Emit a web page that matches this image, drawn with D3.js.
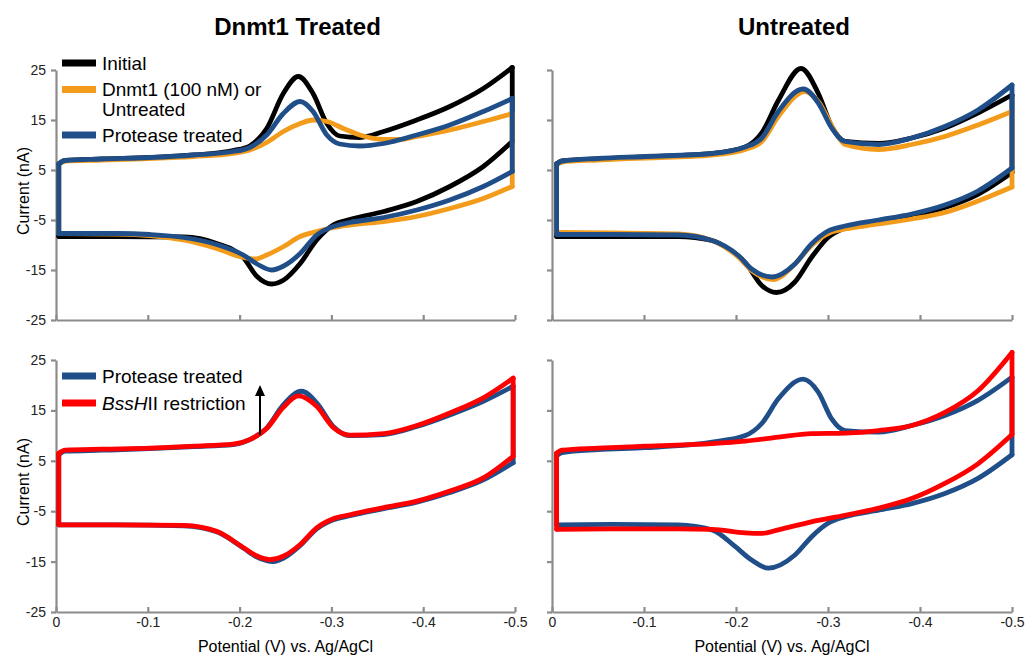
<!DOCTYPE html>
<html>
<head>
<meta charset="utf-8">
<script src="https://cdn.jsdelivr.net/npm/d3@7"></script>
<style>
  body { margin: 0; background: #fff; }
  svg { font-family: Arial, "Liberation Sans", sans-serif; }
</style>
</head>
<body>
<svg id="svg" width="1029" height="658"></svg>
<script>
// axis ticks and labels
const xTicks = [0, -0.1, -0.2, -0.3, -0.4, -0.5];
const xTickLabels = ['0', '-0.1', '-0.2', '-0.3', '-0.4', '-0.5'];
const yTicks = [-25, -15, -5, 5, 15, 25];
const panelTitles = ['Dnmt1 Treated', 'Untreated'];
const xTitle = 'Potential (V) vs. Ag/AgCl';
const yTitle = 'Current (nA)';

// [potential V, current nA], forward (upper) and return (lower) branches

// top left: Dnmt1 treated
const tlInitialUp = [[-0.003,6.2],[-0.01,6.9],[-0.05,7.2],[-0.102,7.5],[-0.15,8.0],[-0.193,8.9],[-0.211,9.8],[-0.2205,11.2],[-0.2295,13.3],[-0.2476,20.3],[-0.264,23.7],[-0.280,20.3],[-0.295,14.3],[-0.309,11.8],[-0.331,11.5],[-0.357,12.7],[-0.393,15.0],[-0.429,17.7],[-0.4655,21.3],[-0.497,25.5]];
const tlInitialLow = [[-0.003,-8.3],[-0.066,-8.3],[-0.139,-8.4],[-0.175,-9.7],[-0.204,-12.5],[-0.219,-16.3],[-0.235,-17.8],[-0.248,-17.0],[-0.266,-13.7],[-0.284,-9.0],[-0.302,-6.0],[-0.32,-4.9],[-0.357,-3.3],[-0.393,-1.3],[-0.429,1.7],[-0.4655,5.7],[-0.497,10.7]];
const tlDnmtUp = [[-0.003,6.2],[-0.01,6.8],[-0.05,7.0],[-0.102,7.3],[-0.15,7.7],[-0.193,8.3],[-0.211,9.0],[-0.2295,10.5],[-0.2476,12.7],[-0.266,14.3],[-0.280,15.0],[-0.295,14.7],[-0.313,13.3],[-0.331,12.0],[-0.357,11.1],[-0.375,11.1],[-0.393,11.7],[-0.429,13.0],[-0.4655,14.7],[-0.497,16.3]];
const tlDnmtLow = [[-0.003,-7.7],[-0.066,-7.8],[-0.102,-8.1],[-0.139,-9.0],[-0.175,-10.7],[-0.204,-12.5],[-0.217,-12.8],[-0.2295,-12.0],[-0.248,-10.3],[-0.266,-8.3],[-0.284,-7.3],[-0.302,-6.5],[-0.32,-6.0],[-0.357,-5.3],[-0.393,-4.3],[-0.429,-2.7],[-0.4655,-0.7],[-0.497,1.7]];
const tlProteaseUp = [[-0.003,6.2],[-0.01,6.9],[-0.05,7.2],[-0.102,7.5],[-0.15,8.0],[-0.193,8.7],[-0.211,9.5],[-0.2295,12.0],[-0.2476,16.3],[-0.266,18.7],[-0.280,16.7],[-0.295,12.0],[-0.309,10.2],[-0.331,9.8],[-0.357,10.3],[-0.393,12.0],[-0.429,14.0],[-0.4655,16.7],[-0.497,19.3]];
const tlProteaseLow = [[-0.003,-7.7],[-0.066,-7.7],[-0.102,-7.9],[-0.139,-8.5],[-0.175,-9.9],[-0.204,-12.0],[-0.219,-13.8],[-0.235,-15.0],[-0.248,-14.2],[-0.266,-11.7],[-0.284,-8.0],[-0.302,-6.3],[-0.32,-5.5],[-0.357,-4.5],[-0.393,-3.0],[-0.429,-1.0],[-0.4655,1.7],[-0.497,4.7]];

// top right: untreated
const trInitialUp = [[-0.005,6.2],[-0.011,6.8],[-0.05,7.2],[-0.101,7.6],[-0.174,8.3],[-0.21,9.6],[-0.228,12.4],[-0.246,18.9],[-0.2707,25.3],[-0.2895,20.3],[-0.304,13.7],[-0.3185,10.7],[-0.355,10.3],[-0.391,11.4],[-0.427,13.4],[-0.463,16.4],[-0.5,20.0]];
const trInitialLow = [[-0.005,-8.3],[-0.065,-8.3],[-0.137,-8.3],[-0.174,-9.1],[-0.192,-10.8],[-0.21,-13.5],[-0.228,-18.1],[-0.244,-19.5],[-0.264,-17.4],[-0.282,-12.5],[-0.300,-8.5],[-0.3185,-6.6],[-0.355,-5.3],[-0.391,-4.2],[-0.427,-2.5],[-0.463,0.15],[-0.5,4.5]];
const trUntreatedUp = [[-0.005,6.0],[-0.011,6.6],[-0.05,7.0],[-0.101,7.4],[-0.174,8.0],[-0.21,9.1],[-0.228,10.7],[-0.246,15.7],[-0.275,20.7],[-0.2895,18.7],[-0.3076,12.7],[-0.3185,10.1],[-0.355,9.1],[-0.391,10.1],[-0.427,11.7],[-0.463,14.0],[-0.5,16.7]];
const trUntreatedLow = [[-0.005,-7.5],[-0.065,-7.6],[-0.137,-7.8],[-0.174,-9.1],[-0.2025,-12.4],[-0.217,-15.1],[-0.2405,-16.9],[-0.264,-13.8],[-0.282,-10.1],[-0.300,-7.7],[-0.3185,-6.8],[-0.355,-5.8],[-0.391,-4.8],[-0.427,-3.5],[-0.463,-1.2],[-0.5,1.6]];
const trProteaseUp = [[-0.005,6.2],[-0.011,6.8],[-0.05,7.3],[-0.101,7.7],[-0.174,8.3],[-0.21,9.6],[-0.228,11.4],[-0.246,16.7],[-0.273,21.2],[-0.2895,18.4],[-0.304,13.4],[-0.3185,10.7],[-0.355,10.1],[-0.391,11.4],[-0.427,13.7],[-0.463,17.0],[-0.5,22.0]];
const trProteaseLow = [[-0.005,-7.9],[-0.065,-7.9],[-0.137,-8.0],[-0.174,-9.1],[-0.2025,-12.1],[-0.217,-14.8],[-0.239,-16.4],[-0.264,-13.8],[-0.282,-9.8],[-0.300,-7.2],[-0.3185,-6.2],[-0.355,-5.0],[-0.391,-3.8],[-0.427,-2.0],[-0.463,0.8],[-0.5,5.4]];

// bottom left: Dnmt1 treated, then protease / BssHII
const blProteaseUp = [[-0.003,6.2],[-0.01,6.9],[-0.05,7.1],[-0.102,7.4],[-0.15,7.8],[-0.193,8.2],[-0.211,9.2],[-0.2295,11.5],[-0.2476,16.1],[-0.2675,18.8],[-0.284,16.5],[-0.302,11.8],[-0.32,10.0],[-0.357,10.2],[-0.393,11.8],[-0.429,14.1],[-0.4655,16.8],[-0.498,19.8]];
const blProteaseLow = [[-0.003,-7.7],[-0.066,-7.7],[-0.139,-7.9],[-0.175,-9.1],[-0.204,-12.3],[-0.219,-14.1],[-0.237,-15.0],[-0.248,-14.3],[-0.266,-11.8],[-0.284,-8.5],[-0.302,-6.7],[-0.32,-5.9],[-0.357,-4.5],[-0.393,-3.2],[-0.429,-1.3],[-0.4655,1.2],[-0.498,4.6]];
const blBssUp = [[-0.003,6.5],[-0.01,7.1],[-0.05,7.3],[-0.102,7.5],[-0.15,7.9],[-0.193,8.3],[-0.211,9.2],[-0.2295,11.4],[-0.2476,15.6],[-0.264,17.9],[-0.284,15.8],[-0.302,11.6],[-0.32,10.1],[-0.357,10.4],[-0.393,12.0],[-0.429,14.5],[-0.4655,17.5],[-0.498,21.4]];
const blBssLow = [[-0.003,-7.7],[-0.066,-7.7],[-0.139,-7.8],[-0.175,-9.0],[-0.204,-12.2],[-0.219,-13.9],[-0.233,-14.6],[-0.248,-13.9],[-0.266,-11.6],[-0.284,-8.3],[-0.302,-6.5],[-0.32,-5.7],[-0.357,-4.3],[-0.393,-3.0],[-0.429,-1.0],[-0.4655,1.6],[-0.498,5.9]];

// bottom right: untreated, then protease / BssHII
const brProteaseUp = [[-0.005,6.0],[-0.011,6.6],[-0.05,7.2],[-0.101,7.6],[-0.174,8.7],[-0.21,10.0],[-0.228,12.4],[-0.246,17.3],[-0.273,21.2],[-0.2895,18.6],[-0.304,13.3],[-0.3185,11.0],[-0.355,10.7],[-0.391,12.0],[-0.427,14.0],[-0.463,17.0],[-0.5,21.6]];
const brProteaseLow = [[-0.005,-7.7],[-0.065,-7.6],[-0.137,-7.7],[-0.174,-8.7],[-0.199,-12.0],[-0.217,-14.7],[-0.235,-16.3],[-0.264,-13.7],[-0.282,-10.1],[-0.300,-7.4],[-0.3185,-6.1],[-0.355,-4.8],[-0.391,-3.5],[-0.427,-1.5],[-0.463,1.5],[-0.5,6.2]];
const brBssUp = [[-0.005,6.5],[-0.011,7.1],[-0.05,7.5],[-0.101,7.9],[-0.174,8.4],[-0.21,8.9],[-0.246,9.7],[-0.282,10.4],[-0.3185,10.5],[-0.355,11.0],[-0.391,12.0],[-0.427,14.6],[-0.463,18.9],[-0.5,26.5]];
const brBssLow = [[-0.005,-8.6],[-0.065,-8.5],[-0.137,-8.5],[-0.174,-8.6],[-0.21,-9.3],[-0.228,-9.4],[-0.246,-8.7],[-0.282,-7.1],[-0.3185,-5.8],[-0.355,-4.4],[-0.391,-2.5],[-0.427,0.5],[-0.463,4.4],[-0.5,10.2]];

const colors = { initial: '#000000', dnmt: '#f39c1c', protease: '#1f4e89', bss: '#ff0000' };
const axisColor = '#8c8c8c';

const panels = [
  { xr: [56, 515], yr: [320, 70], yLabels: true, xLabels: false, title: panelTitles[0],
    curves: [[tlInitialUp, tlInitialLow, colors.initial], [tlDnmtUp, tlDnmtLow, colors.dnmt], [tlProteaseUp, tlProteaseLow, colors.protease]] },
  { xr: [552, 1012], yr: [320, 70], yLabels: false, xLabels: false, title: panelTitles[1],
    curves: [[trInitialUp, trInitialLow, colors.initial], [trUntreatedUp, trUntreatedLow, colors.dnmt], [trProteaseUp, trProteaseLow, colors.protease]] },
  { xr: [56, 515], yr: [612, 360], yLabels: true, xLabels: true,
    curves: [[blProteaseUp, blProteaseLow, colors.protease], [blBssUp, blBssLow, colors.bss]] },
  { xr: [552, 1012], yr: [612, 360], yLabels: false, xLabels: true,
    curves: [[brProteaseUp, brProteaseLow, colors.protease], [brBssUp, brBssLow, colors.bss]] }
];

let svg = d3.select('#svg');

panels.forEach(p => {
  let x = d3.scaleLinear().domain([0, -0.5]).range(p.xr);
  let y = d3.scaleLinear().domain([-25, 25]).range(p.yr);
  let g = svg.append('g');

  g.append('g')
    .attr('transform', 'translate(' + p.xr[0] + ',0)')
    .call(d3.axisLeft(y).tickValues(yTicks).tickSize(5).tickSizeOuter(0).tickPadding(5)
      .tickFormat(d => p.yLabels ? d : ''));

  g.append('g')
    .attr('transform', 'translate(0,' + p.yr[0] + ')')
    .call(d3.axisBottom(x).tickValues(xTicks).tickSize(-5).tickSizeOuter(0).tickPadding(5)
      .tickFormat((d, i) => p.xLabels ? xTickLabels[i] : ''));

  g.selectAll('.domain, .tick line').attr('stroke', axisColor).attr('stroke-width', 2.2);
  g.selectAll('.tick text').attr('font-size', 14).attr('fill', '#222')
    .attr('font-family', 'Arial, "Liberation Sans", sans-serif');

  // both branches run left to right on screen, so monotone-x keeps them smooth
  let line = d3.line()
    .x(d => x(d[0]))
    .y(d => y(d[1]))
    .curve(d3.curveMonotoneX);
  let straight = d3.line().x(d => x(d[0])).y(d => y(d[1]));

  p.curves.forEach(c => {
    let up = c[0], low = c[1];
    let cg = g.append('g')
      .attr('fill', 'none')
      .attr('stroke', c[2])
      .attr('stroke-width', 4.8)
      .attr('stroke-linejoin', 'round')
      .attr('stroke-linecap', 'round');
    cg.append('path').attr('d', line(up));
    cg.append('path').attr('d', line(low));
    // vertical switching segments at both ends of the scan
    cg.append('path').attr('d', straight([low[0], up[0]]));
    cg.append('path').attr('d', straight([up[up.length - 1], low[low.length - 1]]));
  });

  if (p.title) {
    svg.append('text')
      .attr('x', (p.xr[0] + p.xr[1]) / 2 + 12)
      .attr('y', 35)
      .attr('text-anchor', 'middle')
      .attr('font-size', 24)
      .attr('font-weight', 'bold')
      .text(p.title);
  }

  if (p.yLabels) {
    let cy = (p.yr[0] + p.yr[1]) / 2 - 4;
    svg.append('text')
      .attr('transform', 'translate(23,' + cy + ') rotate(-90)')
      .attr('text-anchor', 'middle')
      .attr('dy', '0.35em')
      .attr('font-size', 16)
      .text(yTitle);
  }

  if (p.xLabels) {
    svg.append('text')
      .attr('x', (p.xr[0] + p.xr[1]) / 2)
      .attr('y', 652)
      .attr('text-anchor', 'middle')
      .attr('font-size', 16)
      .text(xTitle);
  }
});

// legends
function legendItem(ly, color, lines) {
  svg.append('line')
    .attr('x1', 62).attr('x2', 96)
    .attr('y1', ly).attr('y2', ly)
    .attr('stroke', color).attr('stroke-width', 7);
  lines.forEach((t, i) => {
    let txt = svg.append('text')
      .attr('x', 102)
      .attr('y', ly + i * 20)
      .attr('dy', '0.35em')
      .attr('font-size', 19);
    t.forEach(part => {
      txt.append('tspan').attr('font-style', part[1] ? 'italic' : 'normal').text(part[0]);
    });
  });
}

legendItem(63, colors.initial, [[['Initial']]]);
legendItem(89.5, colors.dnmt, [[['Dnmt1 (100 nM) or']], [['Untreated']]]);
legendItem(135, colors.protease, [[['Protease treated']]]);
legendItem(376, colors.protease, [[['Protease treated']]]);
legendItem(403, colors.bss, [[['BssH', true], ['II restriction']]]);

// arrow marking the recovered peak
svg.append('line')
  .attr('x1', 260).attr('x2', 260)
  .attr('y1', 435).attr('y2', 394)
  .attr('stroke', '#000').attr('stroke-width', 2);
svg.append('path')
  .attr('d', 'M260,385 L255,396 L265,396 Z')
  .attr('fill', '#000');
</script>
</body>
</html>
